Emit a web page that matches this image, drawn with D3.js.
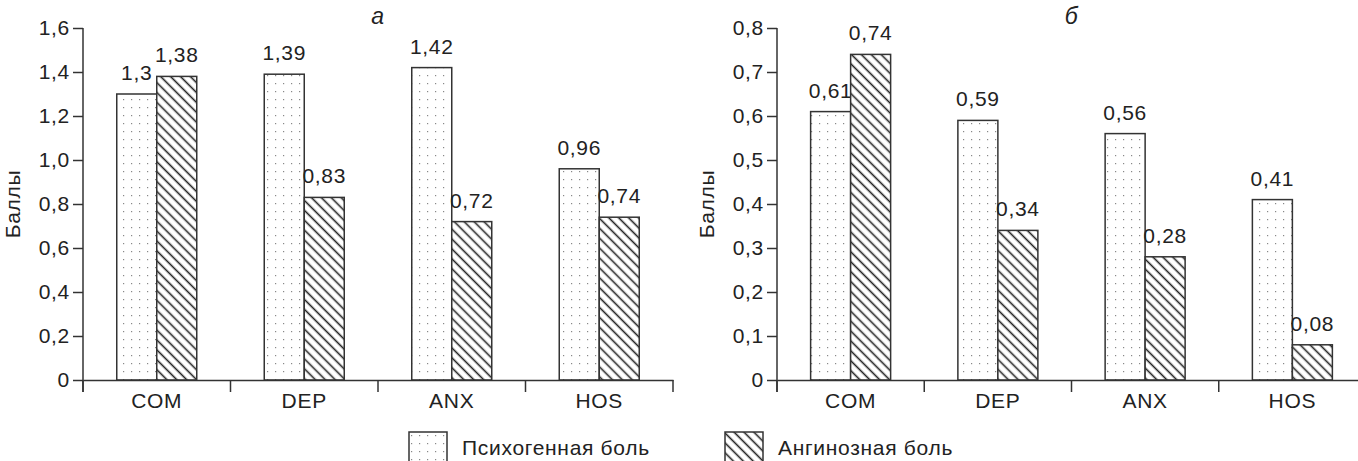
<!DOCTYPE html>
<html>
<head>
<meta charset="utf-8">
<script src="https://cdn.jsdelivr.net/npm/d3@7"></script>
<style>
  body { margin: 0; background: #fff; }
  svg { display: block; }
  text { font-family: "Liberation Sans", Arial, sans-serif; fill: #222; letter-spacing: 0.7px; }
</style>
</head>
<body>
<div id="chart"></div>
<script>
// data
const categories = ['COM', 'DEP', 'ANX', 'HOS'];
const seriesNames = ['Психогенная боль', 'Ангинозная боль'];
const psychoA = [1.3, 1.39, 1.42, 0.96];
const anginaA = [1.38, 0.83, 0.72, 0.74];
const psychoB = [0.61, 0.59, 0.56, 0.41];
const anginaB = [0.74, 0.34, 0.28, 0.08];
const ticksA = [0, 0.2, 0.4, 0.6, 0.8, 1.0, 1.2, 1.4, 1.6];
const ticksB = [0, 0.1, 0.2, 0.3, 0.4, 0.5, 0.6, 0.7, 0.8];

const width = 1358;
const height = 461;
const stroke = '#333';
const fontSize = '21px';

const svg = d3.select('#chart').append('svg')
  .attr('width', width)
  .attr('height', height);

// patterns
const defs = svg.append('defs');
const dots = defs.append('pattern')
  .attr('id', 'dots')
  .attr('patternUnits', 'userSpaceOnUse')
  .attr('width', 8).attr('height', 8);
dots.append('rect').attr('width', 8).attr('height', 8).attr('fill', '#fff');
dots.append('rect').attr('x', 3).attr('y', 3).attr('width', 1.2).attr('height', 1.2).attr('fill', '#888');

const hatch = defs.append('pattern')
  .attr('id', 'hatch')
  .attr('patternUnits', 'userSpaceOnUse')
  .attr('width', 7).attr('height', 7)
  .attr('patternTransform', 'rotate(-45)');
hatch.append('rect').attr('width', 7).attr('height', 7).attr('fill', '#fff');
hatch.append('line')
  .attr('x1', 3.5).attr('y1', 0).attr('x2', 3.5).attr('y2', 7)
  .attr('stroke', '#222').attr('stroke-width', 1.6);

const fills = ['url(#dots)', 'url(#hatch)'];
const fmt = v => d3.format('.2~f')(v).replace('.', ',');
const tickFmt = v => v === 0 ? '0' : d3.format('.1f')(v).replace('.', ',');

function panel(opts) {
  const { left, right, top, bottom, maxValue, ticks, series, letter } = opts;

  const x = d3.scaleBand()
    .domain(categories)
    .range([left, right])
    .padding(0);

  const bw = x.bandwidth();
  const xs = d3.scaleBand()
    .domain([0, 1])
    .range([bw / 2 - 40, bw / 2 + 40]);

  const y = d3.scaleLinear()
    .domain([0, maxValue])
    .range([bottom, top]);

  const g = svg.append('g');

  // bars
  series.forEach((vals, si) => {
    g.selectAll('.bar' + si)
      .data(vals)
      .enter().append('rect')
        .attr('x', (d, i) => x(categories[i]) + xs(si))
        .attr('y', d => y(d))
        .attr('width', xs.bandwidth())
        .attr('height', d => bottom - y(d))
        .attr('fill', fills[si])
        .attr('stroke', stroke)
        .attr('stroke-width', 1.5);

    g.selectAll('.lbl' + si)
      .data(vals)
      .enter().append('text')
        .attr('x', (d, i) => x(categories[i]) + xs(si) + xs.bandwidth() / 2)
        .attr('y', d => y(d) - 14)
        .attr('text-anchor', 'middle')
        .style('font-size', fontSize)
        .text(fmt);
  });

  // y axis
  const yAxis = d3.axisLeft(y)
    .tickValues(ticks)
    .tickFormat(tickFmt)
    .tickSizeInner(10)
    .tickSizeOuter(0)
    .tickPadding(3);

  const ya = g.append('g')
    .attr('transform', `translate(${left},0)`)
    .call(yAxis);
  ya.select('.domain').remove();
  ya.selectAll('line').attr('stroke', stroke).attr('stroke-width', 1.5);
  ya.selectAll('text').style('font-size', fontSize).style('font-family', '"Liberation Sans", Arial, sans-serif').attr('fill', '#222');

  g.append('line')
    .attr('x1', left).attr('x2', left)
    .attr('y1', y(maxValue)).attr('y2', bottom + 12)
    .attr('stroke', stroke).attr('stroke-width', 1.5);

  // x axis
  const xAxis = d3.axisBottom(x).tickSize(0).tickPadding(13);
  const xa = g.append('g')
    .attr('transform', `translate(0,${bottom})`)
    .call(xAxis);
  xa.select('.domain').attr('stroke', stroke).attr('stroke-width', 1.5);
  xa.selectAll('text').style('font-size', fontSize).style('font-family', '"Liberation Sans", Arial, sans-serif').attr('fill', '#222');

  const bounds = categories.map(c => x(c)).concat([right]);
  g.selectAll('.sep')
    .data(bounds)
    .enter().append('line')
      .attr('x1', d => d).attr('x2', d => d)
      .attr('y1', bottom).attr('y2', bottom + 12)
      .attr('stroke', stroke).attr('stroke-width', 1.5);

  // axis title
  g.append('text')
    .attr('transform', `translate(${left - 63},${(top + bottom) / 2}) rotate(-90)`)
    .attr('text-anchor', 'middle')
    .style('font-size', fontSize)
    .text('Баллы');

  g.append('text')
    .attr('x', x(categories[2]))
    .attr('y', 24)
    .attr('text-anchor', 'middle')
    .style('font-size', '23px')
    .style('font-style', 'italic')
    .text(letter);
}

panel({ left: 83, right: 673, top: 28, bottom: 380, maxValue: 1.6, ticks: ticksA, series: [psychoA, anginaA], letter: 'а' });
panel({ left: 777, right: 1366, top: 28, bottom: 380, maxValue: 0.8, ticks: ticksB, series: [psychoB, anginaB], letter: 'б' });

// legend
const legendX = [409, 725];
const legend = svg.append('g');
seriesNames.forEach((name, i) => {
  legend.append('rect')
    .attr('x', legendX[i]).attr('y', 432)
    .attr('width', 38).attr('height', 36)
    .attr('fill', fills[i])
    .attr('stroke', stroke).attr('stroke-width', 1.5);
  legend.append('text')
    .attr('x', legendX[i] + 53).attr('y', 455)
    .style('font-size', fontSize)
    .text(name);
});
</script>
</body>
</html>
